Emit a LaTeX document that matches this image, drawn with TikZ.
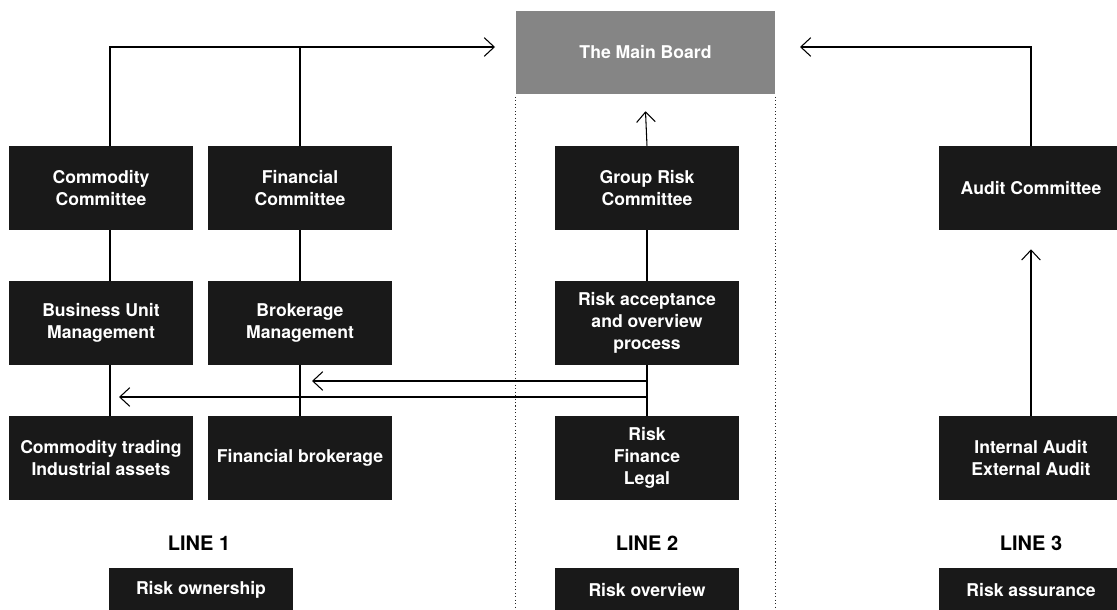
\documentclass[tikz,border=0pt]{standalone}
\usepackage{fontspec}
\setmainfont{TeX Gyre Heros}
\usetikzlibrary{arrows.meta}
\begin{document}
\begin{tikzpicture}[x=0.75pt,y=-0.75pt,
  box/.style={fill=black!90, text=white, font=\bfseries\fontsize{13.2pt}{16.5pt}\selectfont,
    align=center, minimum width=138pt, minimum height=63pt, inner sep=0pt},
  smallbox/.style={box, minimum height=33pt},
  boardbox/.style={box, fill=black!48, minimum width=194.25pt, minimum height=62.25pt},
  conn/.style={line width=0.8pt, black},
  arr/.style={conn, -{Straight Barb[length=7.5pt,width=14pt,line width=0.8pt]}},
  lbl/.style={font=\bfseries\fontsize{15pt}{18pt}\selectfont, inner sep=0pt},
  divider/.style={black!85, line width=0.8pt, dash pattern=on 0.8pt off 1.8pt}]
\useasboundingbox (0,0) rectangle (1117,610);
\clip (0,0) rectangle (1117,610);

% nodes
\node[boardbox] (board) at (645.5,52.5) {The Main Board};

\node[box] (cc) at (101,188) {Commodity\\Committee};
\node[box] (fc) at (300,188) {Financial\\Committee};
\node[box] (gr) at (647,188) {Group Risk\\Committee};
\node[box] (ac) at (1031,188) {Audit Committee};

\node[box] (bu) at (101,323) {Business Unit\\Management};
\node[box] (bm) at (300,323) {Brokerage\\Management};
\node[box] (ra) at (647,323) {Risk acceptance\\and overview\\process};

\node[box] (ct) at (101,458) {Commodity trading\\Industrial assets};
\node[box] (fb) at (300,458) {Financial brokerage};
\node[box] (rf) at (647,458) {Risk\\Finance\\Legal};
\node[box] (ia) at (1031,458) {Internal Audit\\External Audit};

\node[lbl] (l1) at (199,543) {LINE 1};
\node[lbl] (l2) at (647,543) {LINE 2};
\node[lbl] (l3) at (1031,543) {LINE 3};

\node[smallbox] (ro) at (201,590) {Risk ownership};
\node[smallbox] (rov) at (647,590) {Risk overview};
\node[smallbox] (ras) at (1031,590) {Risk assurance};

% dotted dividers
\draw[divider] ([yshift=-2pt]board.south west) -- ++(0,520);
\draw[divider] ([yshift=-2pt]board.south east) -- ++(0,520);

% free ends
\coordinate (tipL) at (495,47);
\coordinate (tipR) at (800,47);
\coordinate (h1) at (312,381);
\coordinate (h2) at (119,397);

% line 1 connectors
\draw[arr] ([xshift=6.75pt]cc.north) |- (tipL);
\draw[conn] (fc.north) -- (fc.north |- tipL);
\draw[conn] ([xshift=6.75pt]cc.south) -- ([xshift=6.75pt]bu.north);
\draw[conn] ([xshift=6.75pt]bu.south) -- ([xshift=6.75pt]ct.north);
\draw[conn] (fc.south) -- (bm.north);
\draw[conn] (bm.south) -- (fb.north);

% line 2 connectors
\draw[arr] (gr.north) -- ([yshift=-12.75pt]board.south);
\draw[conn] (gr.south) -- (ra.north);
\draw[conn] (ra.south) -- (rf.north);
\draw[arr] (ra.south |- h1) -- (h1);
\draw[arr] (ra.south |- h2) -- (h2);

% line 3 connectors
\draw[arr] (ac.north) |- (tipR);
\draw[arr] (ia.north) -- ([yshift=-14.25pt]ac.south);
\end{tikzpicture}
\end{document}
